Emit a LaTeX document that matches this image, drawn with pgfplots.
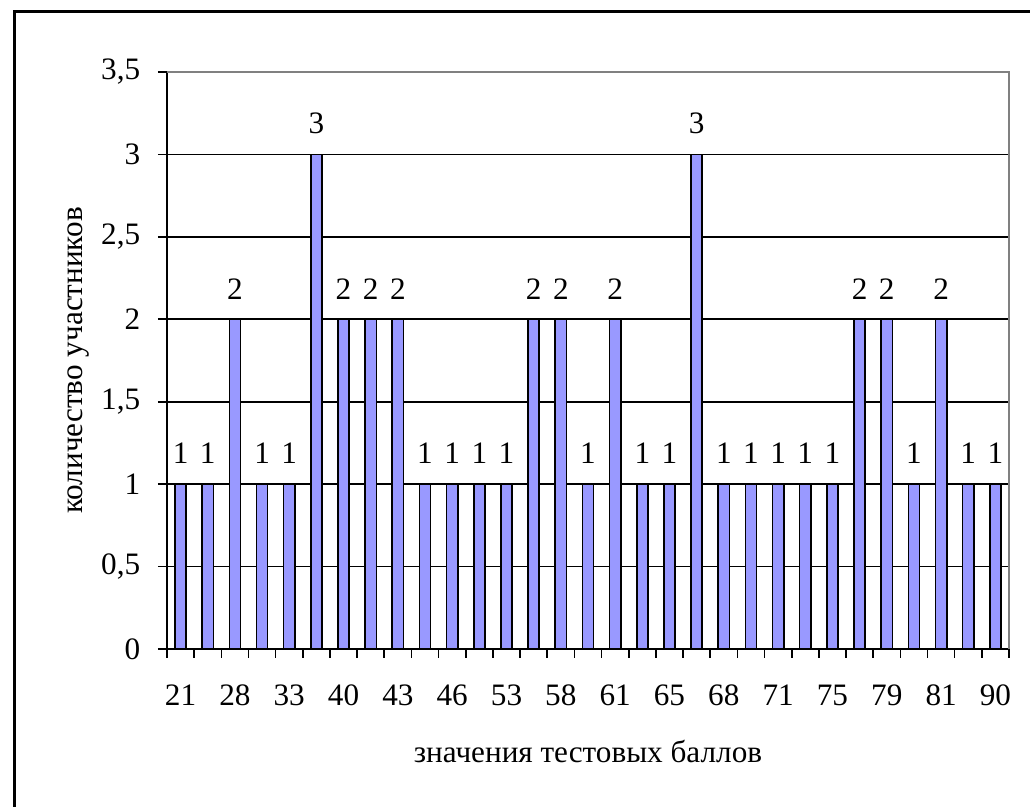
\documentclass[border=0pt]{standalone}
\usepackage{pgfplots}
\pgfplotsset{compat=1.18}
\usepackage{fontspec}
\setmainfont{Liberation Serif}
\definecolor{barblue}{HTML}{9999FF}
\definecolor{bordergray}{HTML}{808080}
\newcommand{\chartfont}{\fontsize{15.6}{18}\selectfont}
\begin{document}
\chartfont
\begin{tikzpicture}
\useasboundingbox (0,0) rectangle (515pt,403.5pt);
\draw[line width=1.6pt] (7.15pt,-5pt) -- (7.15pt,397.75pt) -- (525pt,397.75pt);
\begin{axis}[
  at={(83.5pt,79pt)}, anchor=south west,
  scale only axis, width=421pt, height=288.5pt,
  ybar, bar width=5.6pt,
  xmin=-0.5, xmax=30.5, ymin=0, ymax=3.5,
  axis x line*=bottom, axis y line*=left,
  axis line style={black, line width=1pt},
  xtick={0,2,...,30},
  xticklabels={21,28,33,40,43,46,53,58,61,65,68,71,75,79,81,90},
  major x tick style={draw=none},
  minor xtick={-0.5,0.5,...,30.5},
  minor tick length=4.5pt,
  major tick length=4.5pt,
  tick align=outside,
  tick style={black, line width=0.8pt},
  ytick={0,0.5,...,3.5},
  ymajorgrids,
  grid style={black, line width=0.9pt},
  /pgf/number format/assume math mode=true,
  tick label style={font=\chartfont},
  yticklabel style={/pgf/number format/use comma, /pgf/number format/fixed, /pgf/number format/precision=1, xshift=-3.5pt},
  xticklabel style={yshift=-8pt},
  label style={font=\chartfont},
  xlabel={значения тестовых баллов},
  ylabel={количество участников},
  xlabel style={at={(axis description cs:0.5,-0.1785)}, anchor=center},
  ylabel style={at={(axis description cs:-0.105,0.5)}, anchor=center, rotate=0},
  nodes near coords,
  every node near coord/.append style={font=\chartfont, yshift=4.5pt, black},
  clip=false,
]
\addplot[fill=barblue, draw=black, line width=0.8pt] coordinates {
(0,1) (1,1) (2,2) (3,1) (4,1) (5,3) (6,2) (7,2) (8,2) (9,1)
(10,1) (11,1) (12,1) (13,2) (14,2) (15,1) (16,2) (17,1) (18,1) (19,3)
(20,1) (21,1) (22,1) (23,1) (24,1) (25,2) (26,2) (27,1) (28,2) (29,1) (30,1)
};
\draw[bordergray, line width=0.7pt] (rel axis cs:0,1) -- (rel axis cs:1,1) -- (rel axis cs:1,0);
\end{axis}
\end{tikzpicture}
\end{document}
